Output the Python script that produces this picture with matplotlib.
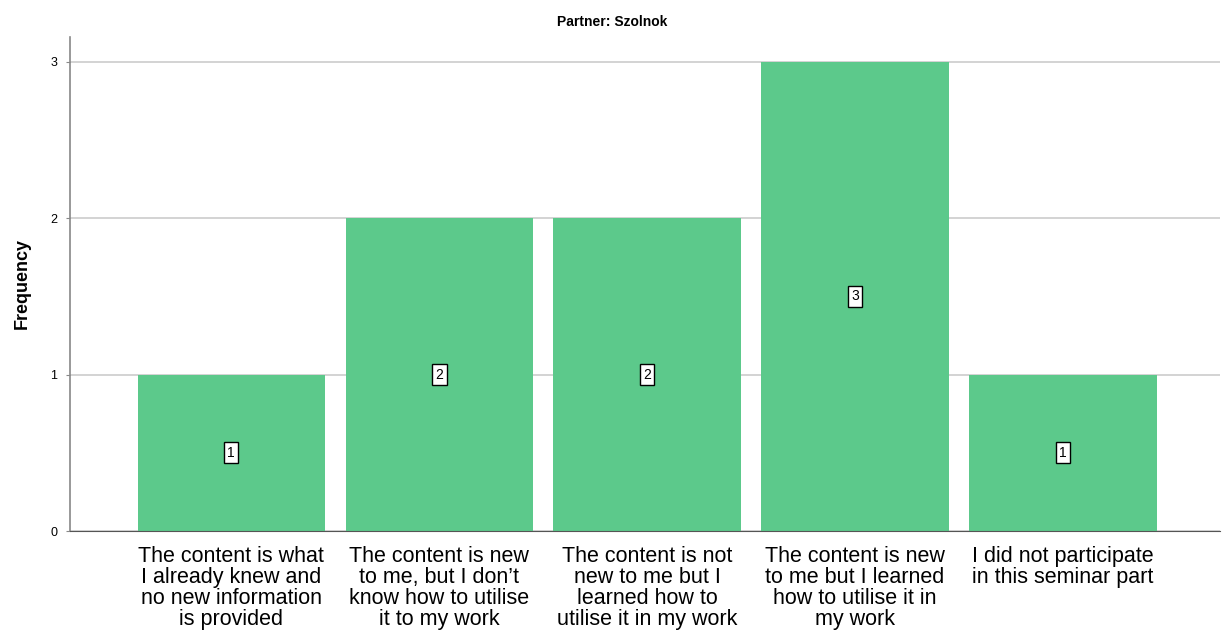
import matplotlib
matplotlib.use("Agg")
import matplotlib.pyplot as plt
import numpy as np

plt.rcParams['font.family'] = ['Liberation Sans', 'DejaVu Sans']

title = "Partner: Szolnok"
categories = [
    "The content is what\nI already knew and\nno new information\nis provided",
    "The content is new\nto me, but I don\u2019t\nknow how to utilise\nit to my work",
    "The content is not\nnew to me but I\nlearned how to\nutilise it in my work",
    "The content is new\nto me but I learned\nhow to utilise it in\nmy work",
    "I did not participate\nin this seminar part",
]
frequency = [1, 2, 2, 3, 1]
y_ticks = [0, 1, 2, 3]

fig = plt.figure(figsize=(12.24, 6.37), dpi=100)
ax = fig.add_axes([0.0572, 0.1664, 0.9395, 0.7756])

x = np.arange(len(categories))
bars = ax.bar(x, frequency, width=0.9, color="#5cc98b", zorder=2)

for xi, v in zip(x, frequency):
    ax.text(xi, v / 2, str(v), ha="center", va="center", fontsize=10, zorder=3,
            bbox=dict(boxstyle="square,pad=0.25", fc="white", ec="black", lw=1))

ax.set_xlim(-0.775, 4.755)
ax.set_ylim(0, 3.16)
ax.set_yticks(y_ticks)
ax.set_yticklabels([str(t) for t in y_ticks], fontsize=9)
ax.set_xticks(x)
ax.set_xticklabels(categories, fontsize=15.5, linespacing=1.0, va="top")
ax.tick_params(axis="x", length=0, pad=11)
ax.tick_params(axis="y", length=3, color="#888888", pad=6)

ax.grid(axis="y", color="#cccccc", lw=1.2, zorder=0)
for s in ["top", "right"]:
    ax.spines[s].set_visible(False)
ax.spines["left"].set_color("#888888")
ax.spines["bottom"].set_color("#555555")
ax.spines["left"].set_linewidth(1.2)

ax.set_ylabel("Frequency", fontsize=13, fontweight="bold", labelpad=14)
fig.text(0.5, 0.965, title, ha="center", va="center", fontsize=10, fontweight="bold")

fig.savefig("out.png", dpi=100)
